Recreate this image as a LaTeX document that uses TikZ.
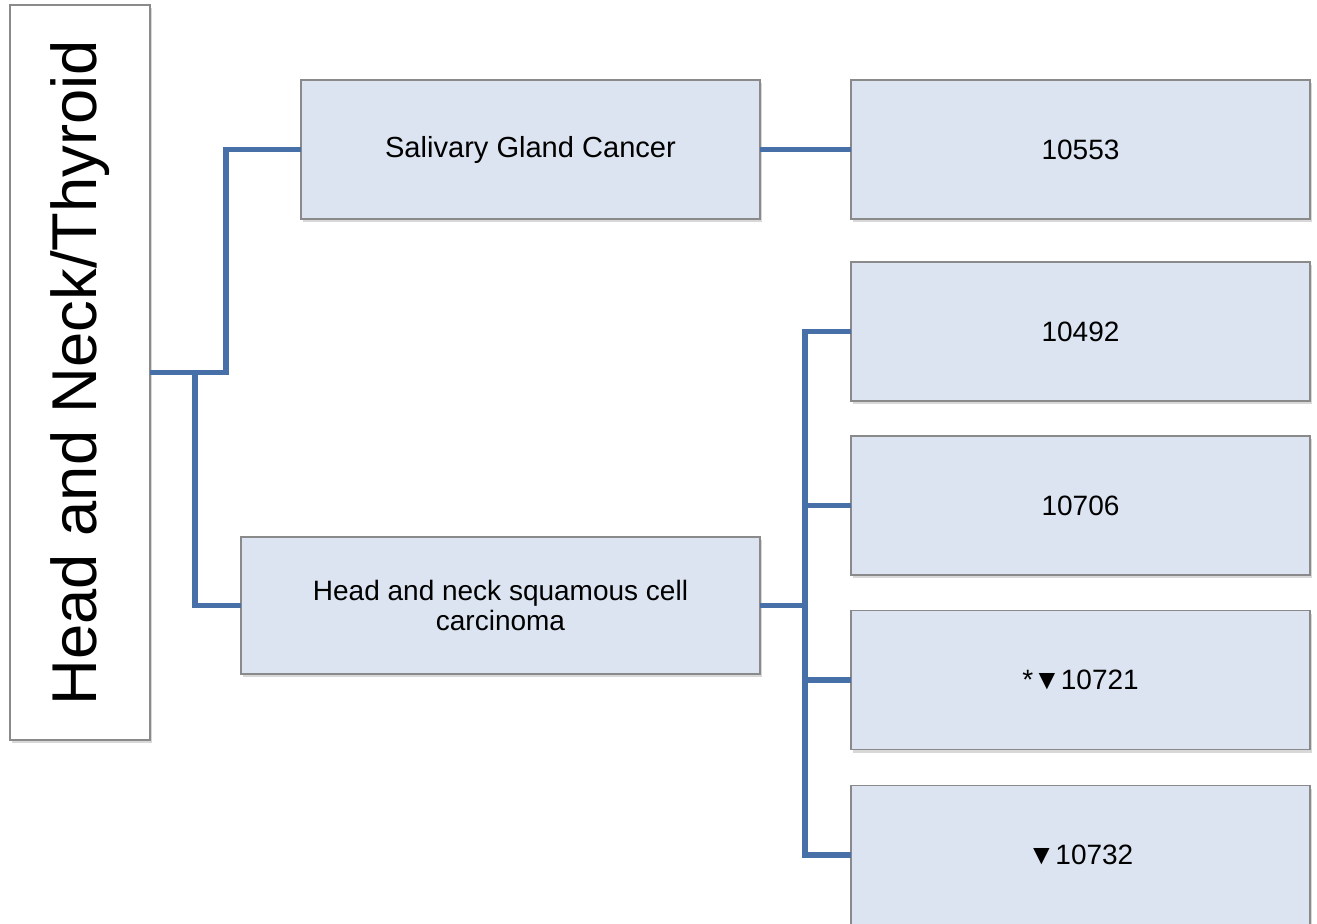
\documentclass[tikz,border=0pt]{standalone}
\usepackage{fontspec}
\setmainfont{Liberation Sans}
\usetikzlibrary{positioning,calc,shadows}
\usepackage{xcolor}
\definecolor{boxfill}{HTML}{DBE4F0}
\definecolor{boxline}{HTML}{8A8A8A}
\definecolor{link}{HTML}{4870A8}
\definecolor{ink}{HTML}{000000}
\newcommand{\Rx}{1080.5}
\begin{document}
\begin{tikzpicture}[x=0.75pt,y=-0.75pt, every node/.style={text=ink},
  box/.style={draw=boxline, line width=1pt, fill=boxfill, inner sep=0pt, outer sep=0pt,
    drop shadow={shadow xshift=1.5pt, shadow yshift=-2.6pt, opacity=0.3}},
  leaf/.style={box, minimum width=344.25pt, minimum height=104.25pt, font=\fontsize{21}{25}\selectfont},
  link/.style={draw=link, line width=3.8pt}]
\useasboundingbox[fill=white] (0,0) rectangle (1317,924);
% ---- ROOT: tall white box, text turned on its side
\node[box, fill=white, minimum width=551.25pt, minimum height=105pt, rotate=90,
  font=\fontsize{47.5}{50}\selectfont] (root) at (80,372.5) {Head and Neck/Thyroid};
% ---- MIDDLE TIER: the two cancer types
\node[box, minimum width=344.25pt, minimum height=104.25pt, font=\fontsize{21.8}{25}\selectfont]
  (sal) at (530.5,149.5) {\raisebox{-1.5pt}{Salivary Gland Cancer}};
\node[box, minimum width=389.25pt, minimum height=102.75pt, align=center,
  font=\fontsize{21}{22.5}\selectfont] (hnscc) at (500.5,605.5)
  {Head and neck squamous cell\\carcinoma};
% ---- RIGHT TIER: study numbers
\node[leaf] (s0) at (\Rx,149.5) {10553};
\node[leaf] (s1) at (\Rx,331.5) {10492};
\node[leaf] (s2) at (\Rx,505.5) {10706};
\node[leaf] (s3) at (\Rx,680) {*▼10721};
\node[leaf] (s4) at (\Rx,855) {▼10732};
% ---- CONNECTORS
\coordinate (j1) at ($(root.south)+(76,0)$);
\coordinate (j2) at ($(root.south)+(45,0)$);
\coordinate (k) at ($(hnscc.east)+(45,0)$);
\draw[link] (root.south) -- (j1) |- (sal.west);
\draw[link] (j2) |- (hnscc.west);
\draw[link] (sal.east) -- (s0.west);
\draw[link] (hnscc.east) -- (k);
\draw[link] (s1.west) -| (k) |- (s4.west);
\foreach \s in {s2,s3} { \draw[link] (k |- \s.west) -- (\s.west); }
\end{tikzpicture}
\end{document}
